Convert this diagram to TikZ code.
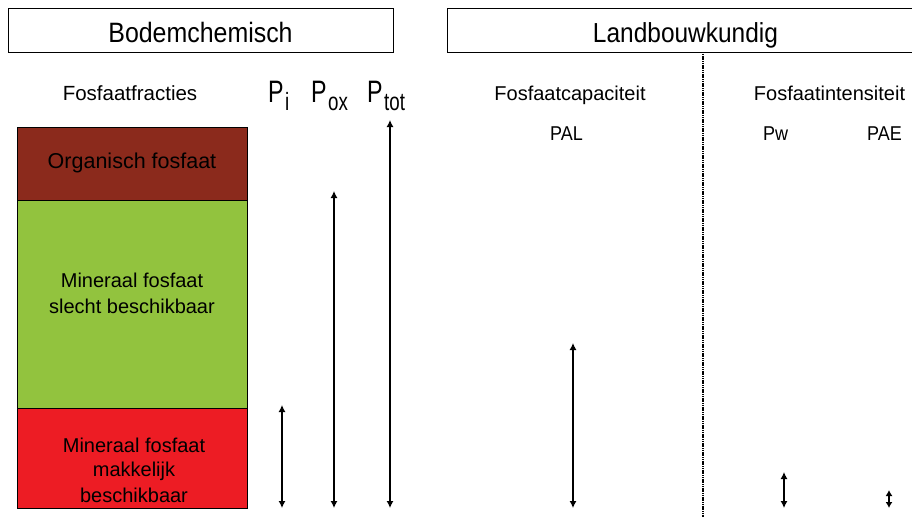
\documentclass[tikz,border=0pt]{standalone}
\usepackage{fontspec}
\setmainfont{Liberation Sans}
\newfontfamily\headfont{Liberation Sans}[FakeStretch=0.89]
\newfontfamily\symfont{Liberation Sans}[FakeStretch=0.75]
\newfontfamily\codefont{Liberation Sans}[FakeStretch=0.9]
\usetikzlibrary{arrows.meta}
\definecolor{orgbrown}{HTML}{8B2A1C}
\definecolor{mingreen}{HTML}{92C33E}
\definecolor{minred}{HTML}{ED1C24}
\tikzset{
  headbox/.style={draw, line width=1pt, inner sep=0pt, anchor=north west},
  headtext/.style={anchor=base, inner sep=0pt, font=\headfont\fontsize{28}{32}\selectfont},
  layer/.style={draw, line width=0.9pt, inner sep=0pt, anchor=north west, minimum width=230pt},
  lbl/.style={anchor=base, inner sep=0pt, font=\fontsize{20}{24}\selectfont},
  code/.style={anchor=base, inner sep=0pt, font=\codefont\fontsize{20}{24}\selectfont},
  pbig/.style={anchor=base west, inner sep=0pt, font=\symfont\fontsize{31}{34}\selectfont},
  spanarrow/.style={line width=1.2pt, {Latex[length=7pt,width=7pt]}-{Latex[length=7pt,width=7pt]}}
}
% symbol with a large, lowered index
\newcommand{\psym}[1]{P\hspace{1.5pt}\raisebox{-8pt}{\fontsize{25}{28}\selectfont #1}}
\begin{document}
\begin{tikzpicture}[x=1pt,y=-1pt]
\useasboundingbox (0,0) rectangle (912,517);

% header boxes
\node[headbox, minimum width=385pt, minimum height=44pt] (bodem) at (8,8) {};
\node[headtext] (bodemt) at (200.5,42) {Bodemchemisch};
\node[headbox, minimum width=470pt, minimum height=44pt] (land) at (447,8) {};
\node[headtext, font=\headfont\fontsize{27.5}{32}\selectfont] (landt) at (685.5,42) {Landbouwkundig};

% separator between capacity and intensity
\coordinate (sepTop) at (703,52);
\coordinate (sepBot) at (703,517);
\draw[line width=1.6pt, dash pattern=on 1.2pt off 0.6pt] (sepTop) -- (sepBot);

% column headings
\node[lbl, font=\fontsize{20.5}{24}\selectfont] (fract) at (130,100) {Fosfaatfracties};
\node[pbig] (pi) at (268,102) {\psym{i}};
\node[pbig] (pox) at (311,102) {\psym{ox}};
\node[pbig] (ptot) at (367,102) {\psym{tot}};
\node[lbl] (cap) at (570,100) {Fosfaatcapaciteit};
\node[lbl] (int) at (829.5,100) {Fosfaatintensiteit};
\node[code] (pal) at (566.5,140) {PAL};
\node[code] (pw) at (775.5,140) {Pw};
\node[code] (pae) at (884.5,140) {PAE};

% phosphate fractions
\node[layer, fill=orgbrown, minimum height=73pt] (org) at (17,127) {};
\node[lbl, font=\fontsize{21.5}{26}\selectfont] at (132,168) {Organisch fosfaat};
\node[layer, fill=mingreen, minimum height=208pt] (slecht) at (17,200) {};
\node[lbl] at (132,287) {Mineraal fosfaat};
\node[lbl] at (132,313) {slecht beschikbaar};
\node[layer, fill=minred, minimum height=100pt] (makk) at (17,408) {};
\node[lbl] at (134,452) {Mineraal fosfaat};
\node[lbl] at (134,476) {makkelijk};
\node[lbl] at (134,502) {beschikbaar};

% ranges of the measured fractions
\coordinate (piT) at (282,405);   \coordinate (piB) at (282,508);
\coordinate (poxT) at (334,191);  \coordinate (poxB) at (334,508);
\coordinate (ptotT) at (390,120); \coordinate (ptotB) at (390,508);
\coordinate (palT) at (573,343);  \coordinate (palB) at (573,508);
\coordinate (pwT) at (784,472);   \coordinate (pwB) at (784,508);
\coordinate (paeT) at (889,490);  \coordinate (paeB) at (889,508);
\draw[spanarrow] (piT) -- (piB);
\draw[spanarrow] (poxT) -- (poxB);
\draw[spanarrow] (ptotT) -- (ptotB);
\draw[spanarrow] (palT) -- (palB);
\draw[spanarrow] (pwT) -- (pwB);
\draw[spanarrow, {Latex[length=6pt,width=7pt]}-{Latex[length=6pt,width=7pt]}] (paeT) -- (paeB);
\end{tikzpicture}
\end{document}
